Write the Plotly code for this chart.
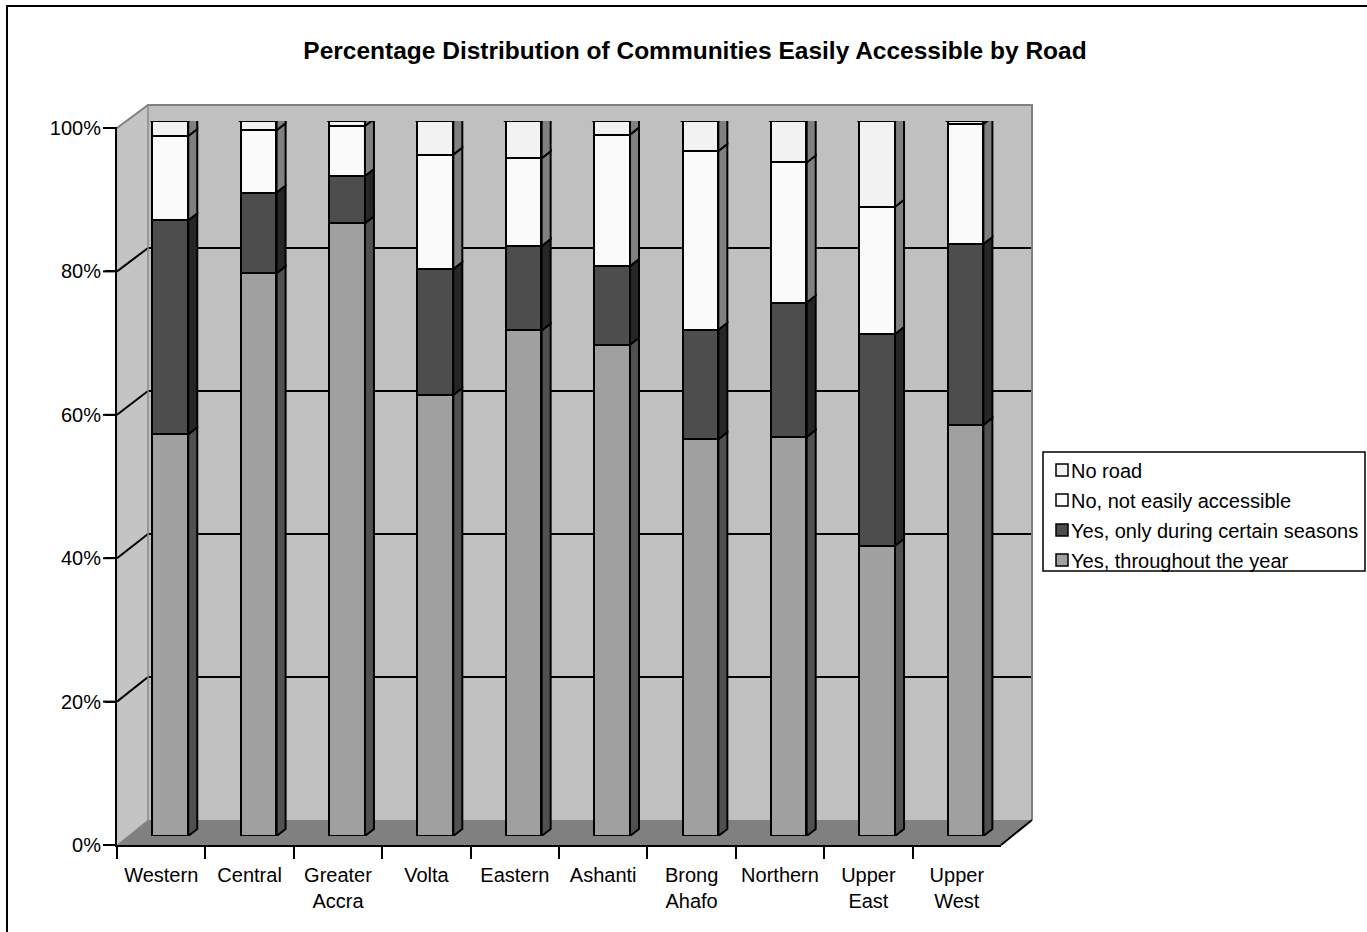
import plotly.graph_objects as go

W, H = 1367, 932

# ---------------- data ----------------
regions = ["Western", "Central", "Greater Accra", "Volta", "Eastern", "Ashanti",
           "Brong Ahafo", "Northern", "Upper East", "Upper West"]
region_labels = ["Western", "Central", "Greater<br>Accra", "Volta", "Eastern", "Ashanti",
                 "Brong<br>Ahafo", "Northern", "Upper<br>East", "Upper<br>West"]

yes_throughout_year = [56.2, 78.7, 85.7, 61.7, 70.7, 68.7, 55.5, 55.8, 40.6, 57.5]
yes_certain_seasons = [29.9, 11.3, 6.6, 17.6, 11.8, 11.0, 15.3, 18.8, 29.6, 25.3]
no_not_easily = [11.8, 8.7, 7.0, 16.0, 12.3, 18.4, 25.0, 19.6, 17.8, 16.8]
no_road = [2.1, 1.3, 0.7, 4.7, 5.2, 1.9, 4.2, 5.8, 12.0, 0.4]

series_names = ["Yes, throughout the year", "Yes, only during certain seasons",
                "No, not easily accessible", "No road"]
series_values = [yes_throughout_year, yes_certain_seasons, no_not_easily, no_road]

y_ticks = [0, 20, 40, 60, 80, 100]
title_text = "Percentage Distribution of Communities Easily Accessible by Road"

# ---------------- style ----------------
FONT = "Liberation Sans, Arial, sans-serif"
front_colors = ["#a0a0a0", "#4d4d4d", "#fafafa", "#f2f2f2"]
side_colors = ["#505050", "#262626", "#808080", "#808080"]
top_color = "#e4e4e4"
wall_color = "#c0c0c0"
floor_color = "#808080"


def px(x):
    return x / W


def py(y):
    return 1 - y / H


# geometry (pixels)
FX0, FX1, FY0, FY100 = 117, 1001, 845, 128       # front plane
BX0, BX1, BY0, BY100 = 148, 1032, 820, 105       # back wall
BAR_Y0, BAR_Y100 = 836, 121                       # bar front faces
BAR_C0, BAR_STEP = 170.5, 88.35
BAR_W_PX = 35.5
DX_PX, DY_PX = 9, 7

n = len(regions)
idx = list(range(n))
bar_w = BAR_W_PX / BAR_STEP
dxu = DX_PX / BAR_STEP
dyu = DY_PX / ((BAR_Y0 - BAR_Y100) / 100)


def fy(v):
    return FY0 - (FY0 - FY100) * v / 100


def by(v):
    return BY0 - (BY0 - BY100) * v / 100


shapes = []

# outer border (top and left edges)
shapes.append(dict(type="line", xref="paper", yref="paper", x0=px(6), y0=py(6), x1=1.0,
                   y1=py(6), line=dict(color="black", width=2), layer="below"))
shapes.append(dict(type="line", xref="paper", yref="paper", x0=px(7), y0=py(6), x1=px(7),
                   y1=0.0, line=dict(color="black", width=2), layer="below"))
# back wall
shapes.append(dict(type="rect", xref="paper", yref="paper", x0=px(BX0), y0=py(BY0), x1=px(BX1),
                   y1=py(BY100), fillcolor=wall_color, line=dict(width=0), layer="below"))
# side wall
shapes.append(dict(type="path", xref="paper", yref="paper",
                   path=f"M{px(FX0)},{py(FY0)} L{px(FX0)},{py(FY100)} L{px(BX0)},{py(BY100)} L{px(BX0)},{py(BY0)} Z",
                   fillcolor="#c4c4c4", line=dict(width=0), layer="below"))
# floor
shapes.append(dict(type="path", xref="paper", yref="paper",
                   path=f"M{px(FX0)},{py(FY0)} L{px(BX0)},{py(BY0)} L{px(BX1)},{py(BY0)} L{px(FX1)},{py(FY0)} Z",
                   fillcolor=floor_color, line=dict(width=0), layer="below"))
# gridlines
for v in y_ticks[1:-1]:
    shapes.append(dict(type="line", xref="paper", yref="paper", x0=px(BX0), y0=py(by(v)),
                       x1=px(BX1), y1=py(by(v)), line=dict(color="black", width=2), layer="below"))
    shapes.append(dict(type="line", xref="paper", yref="paper", x0=px(FX0), y0=py(fy(v)),
                       x1=px(BX0), y1=py(by(v)), line=dict(color="black", width=2), layer="below"))
# y ticks (full length, front plane)
for v in y_ticks:
    shapes.append(dict(type="line", xref="paper", yref="paper", x0=px(103), y0=py(fy(v)),
                       x1=px(FX0), y1=py(fy(v)), line=dict(color="black", width=2), layer="above"))
# wall edges
shapes.append(dict(type="path", xref="paper", yref="paper",
                   path=f"M{px(FX0)},{py(FY100)} L{px(BX0)},{py(BY100)} L{px(BX1)},{py(BY100)} L{px(BX1)},{py(BY0)}",
                   line=dict(color="#808080", width=2), layer="below"))
shapes.append(dict(type="line", xref="paper", yref="paper", x0=px(BX0), y0=py(BY100),
                   x1=px(BX0), y1=py(BY0), line=dict(color="#8a8a8a", width=1.5), layer="below"))
shapes.append(dict(type="line", xref="paper", yref="paper", x0=px(FX0), y0=py(FY0),
                   x1=px(BX0), y1=py(BY0), line=dict(color="#8a8a8a", width=1), layer="below"))
shapes.append(dict(type="line", xref="paper", yref="paper", x0=px(FX1), y0=py(FY0),
                   x1=px(BX1), y1=py(BY0), line=dict(color="black", width=2), layer="below"))

fig = go.Figure()

# bars (front faces) + 3D sides/tops from the same data
bases = [0.0] * n
for s, (name, vals) in enumerate(zip(series_names, series_values)):
    fig.add_trace(go.Bar(x=idx, y=vals, base=bases[:], width=bar_w, name=name,
                         marker=dict(color=front_colors[s], line=dict(color="black", width=2)),
                         showlegend=False, hovertemplate="%{y:.1f}%<extra>" + name + "</extra>"))
    for i in idx:
        y0 = bases[i]
        y1 = bases[i] + vals[i]
        x1 = i + bar_w / 2
        x0 = i - bar_w / 2
        shapes.append(dict(type="path", xref="x", yref="y",
                           path=f"M{x1},{y0} L{x1 + dxu},{y0 + dyu} L{x1 + dxu},{y1 + dyu} L{x1},{y1} Z",
                           fillcolor=side_colors[s], line=dict(color="black", width=2), layer="above"))
        if s == len(series_names) - 1:
            shapes.append(dict(type="path", xref="x", yref="y",
                               path=f"M{x0},{y1} L{x0 + dxu},{y1 + dyu} L{x1 + dxu},{y1 + dyu} L{x1},{y1} Z",
                               fillcolor=top_color, line=dict(color="black", width=2), layer="above"))
    bases = [b + v for b, v in zip(bases, vals)]

# invisible trace that carries the front-plane category axis
fig.add_trace(go.Scatter(x=region_labels, y=[0] * n, xaxis="x2", yaxis="y2", mode="markers",
                         marker=dict(opacity=0), showlegend=False, hoverinfo="skip"))

# custom legend (top entry = last series)
LEG_X0, LEG_Y0, LEG_X1, LEG_Y1 = 1043, 452, 1365, 571
shapes.append(dict(type="rect", xref="paper", yref="paper", x0=px(LEG_X0), y0=py(LEG_Y0),
                   x1=px(LEG_X1), y1=py(LEG_Y1), line=dict(color="black", width=1.5),
                   fillcolor="white", layer="below"))
annotations = []
for k, s in enumerate(reversed(range(len(series_names)))):
    cy = 470 + 30 * k
    shapes.append(dict(type="rect", xref="paper", yref="paper", x0=px(1056), y0=py(cy - 6),
                       x1=px(1068), y1=py(cy + 6), fillcolor=front_colors[s],
                       line=dict(color="black", width=1.5), layer="above"))
    annotations.append(dict(text=series_names[s], xref="paper", yref="paper", x=px(1069),
                            y=py(cy + 1), xanchor="left", yanchor="middle", showarrow=False,
                            font=dict(family=FONT, size=20, color="black")))

fig.update_layout(
    width=W, height=H, autosize=False,
    margin=dict(l=0, r=0, t=0, b=0, pad=0, autoexpand=False),
    paper_bgcolor="white", plot_bgcolor="rgba(0,0,0,0)",
    barmode="stack", bargap=0,
    showlegend=False,
    font=dict(family=FONT, size=20, color="black"),
    title=dict(text="<b>" + title_text + "</b>", x=px(695), y=py(50), xanchor="center",
               yanchor="middle", font=dict(family=FONT, size=24.5, color="black")),
    xaxis=dict(domain=[px(BAR_C0 - BAR_STEP / 2), px(BAR_C0 + BAR_STEP * (n - 0.5))],
               range=[-0.5, n - 0.5], visible=False, fixedrange=True),
    yaxis=dict(domain=[py(BAR_Y0), py(BAR_Y100)], range=[0, 100], visible=False, fixedrange=True),
    xaxis2=dict(domain=[px(FX0), px(FX1)], anchor="y2", type="category",
                categoryorder="array", categoryarray=region_labels, range=[-0.5, n - 0.5],
                showline=True, linecolor="black", linewidth=2, ticks="outside", ticklen=12,
                tickwidth=2, tickcolor="black", tickson="boundaries", showgrid=False,
                zeroline=False, ticklabelstandoff=11,
                tickfont=dict(family=FONT, size=20, color="black"), fixedrange=True),
    yaxis2=dict(domain=[py(FY0), py(FY100)], anchor="x2", range=[0, 100],
                tickvals=y_ticks, ticktext=[f"{t}%" for t in y_ticks],
                showline=True, linecolor="black", linewidth=2, ticks="outside", ticklen=10,
                tickwidth=2, tickcolor="black", showgrid=False, zeroline=False,
                tickfont=dict(family=FONT, size=20, color="black"), fixedrange=True),
    shapes=shapes,
    annotations=annotations,
)

fig.write_html("out.html", config={"displayModeBar": False},
               post_script="document.body.style.margin='0';document.body.style.overflow='hidden';")
